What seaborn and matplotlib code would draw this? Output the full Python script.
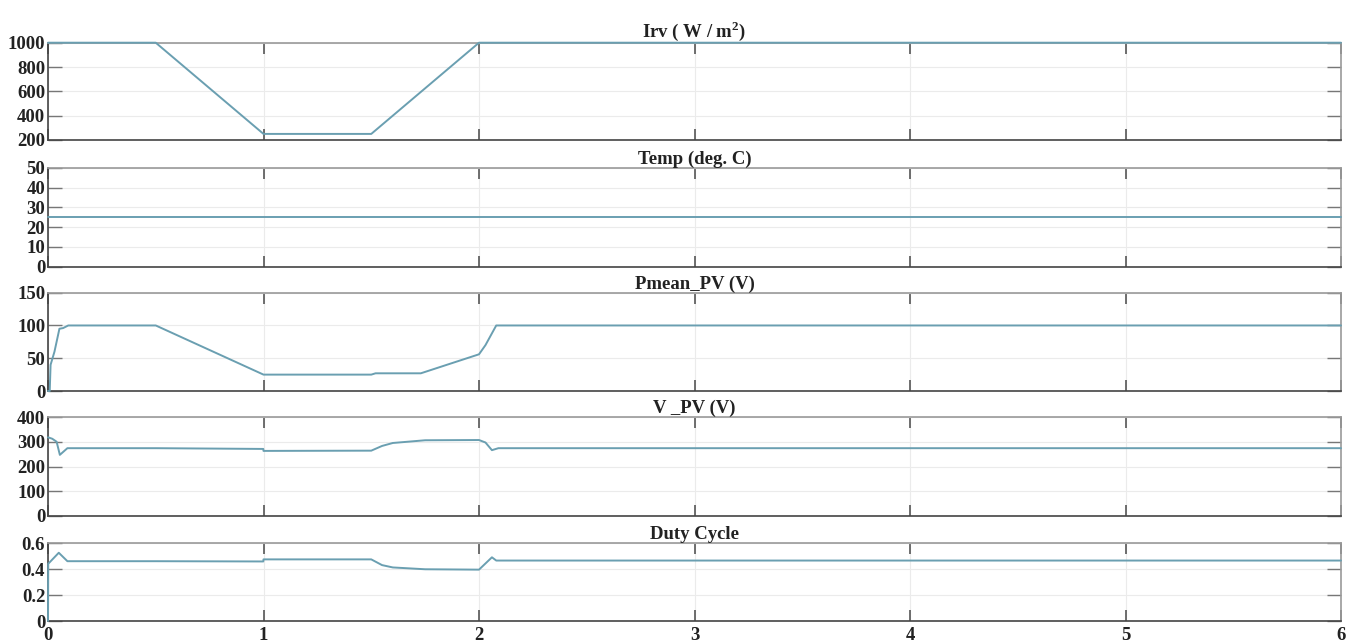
import matplotlib
matplotlib.use("Agg")
import matplotlib.pyplot as plt
import seaborn as sns
import pandas as pd

# Irradiance profile (W/m^2)
irv_t = [0.0, 0.5, 1.0, 1.5, 2.0, 6.0]
irv_v = [1000, 1000, 250, 250, 1000, 1000]

# Cell temperature (deg. C)
temp_t = [0.0, 6.0]
temp_v = [25, 25]

# Mean PV power
pmean_t = [0.0, 0.008, 0.012, 0.03, 0.053, 0.07, 0.094, 0.5, 1.0, 1.5, 1.52, 1.73,
           2.0, 2.03, 2.06, 2.08, 6.0]
pmean_v = [0, 0, 40, 60, 95, 96, 100, 100, 25, 25, 27, 27,
           56, 70, 88, 100, 100]

# PV voltage
vpv_t = [0.0, 0.02, 0.04, 0.055, 0.09, 0.5, 0.999, 1.0, 1.5, 1.55, 1.6, 1.75,
         2.0, 2.03, 2.06, 2.09, 6.0]
vpv_v = [318, 312, 300, 247, 274, 274, 271, 263, 264, 283, 295, 306,
         307, 297, 266, 274, 274]

# Converter duty cycle
duty_t = [0.0, 0.001, 0.05, 0.09, 0.5, 0.999, 1.0, 1.5, 1.55, 1.6, 1.75,
          2.0, 2.06, 2.08, 6.0]
duty_v = [0.0, 0.44, 0.525, 0.46, 0.46, 0.458, 0.474, 0.474, 0.43, 0.412, 0.398,
          0.395, 0.49, 0.465, 0.465]

titles = [r"Irv ( W / m$^\mathbf{2}$)", "Temp (deg. C)", "Pmean_PV (V)",
          "V _PV (V)", "Duty Cycle"]
yticks = [[200, 400, 600, 800, 1000],
          [0, 10, 20, 30, 40, 50],
          [0, 50, 100, 150],
          [0, 100, 200, 300, 400],
          [0, 0.2, 0.4, 0.6]]
ytick_labels = [["200", "400", "600", "800", "1000"],
                ["0", "10", "20", "30", "40", "50"],
                ["0", "50", "100", "150"],
                ["0", "100", "200", "300", "400"],
                ["0", "0.2", "0.4", "0.6"]]
xticks = [0, 1, 2, 3, 4, 5, 6]

series = [(irv_t, irv_v), (temp_t, temp_v), (pmean_t, pmean_v),
          (vpv_t, vpv_v), (duty_t, duty_v)]

sns.set_theme(style="white")
plt.rcParams["font.family"] = ["Liberation Serif", "DejaVu Serif"]
plt.rcParams["font.weight"] = "bold"
plt.rcParams["mathtext.fontset"] = "custom"
plt.rcParams["mathtext.bf"] = "Liberation Serif:bold"
plt.rcParams["mathtext.rm"] = "Liberation Serif:bold"

W, H = 1358, 643
fig = plt.figure(figsize=(W / 100, H / 100), dpi=100)
fig.patch.set_facecolor("white")

# panel boxes in pixels: (top, bottom)
boxes = [(42.7, 140.0), (168.0, 266.5), (292.7, 391.0), (417.0, 516.0), (543.0, 621.0)]
x0, x1 = 48.0, 1341.0
fs = 13.5

line_color = "#6a9fb1"
for i, ((top, bot), (t, v)) in enumerate(zip(boxes, series)):
    ax = fig.add_axes([x0 / W, 1 - bot / H, (x1 - x0) / W, (bot - top) / H])
    df = pd.DataFrame({"t": t, "v": v})
    sns.lineplot(data=df, x="t", y="v", ax=ax, color=line_color, linewidth=1.4,
                 estimator=None, sort=False, zorder=4, clip_on=False)
    ax.set_xlim(0, 6)
    ax.set_ylim(yticks[i][0], yticks[i][-1])
    ax.set_xticks(xticks)
    ax.set_yticks(yticks[i])
    ax.set_yticklabels(ytick_labels[i], fontsize=fs, fontweight="bold", color="#222222")
    if i == len(series) - 1:
        ax.set_xticklabels([str(x) for x in xticks], fontsize=fs, fontweight="bold",
                           color="#222222")
    else:
        ax.set_xticklabels([])
    ax.set_xlabel("")
    ax.set_ylabel("")
    ax.grid(True, color="#ebebeb", linewidth=0.8)
    ax.set_axisbelow(True)
    ax.tick_params(axis="x", direction="in", length=8, width=1.2, color="#555555",
                   top=True, bottom=True, pad=4)
    ax.tick_params(axis="y", direction="in", length=10, width=1.0, color="#777777",
                   left=True, right=True, pad=2)
    for side in ("left", "bottom"):
        ax.spines[side].set_color("#444444")
        ax.spines[side].set_linewidth(1.2)
    for side in ("top", "right"):
        ax.spines[side].set_color("#9a9a9a")
        ax.spines[side].set_linewidth(1.2)
    ax.set_title(titles[i], fontsize=fs, fontweight="bold", color="#222222", pad=3)

fig.savefig("out.png", dpi=100, facecolor="white")
